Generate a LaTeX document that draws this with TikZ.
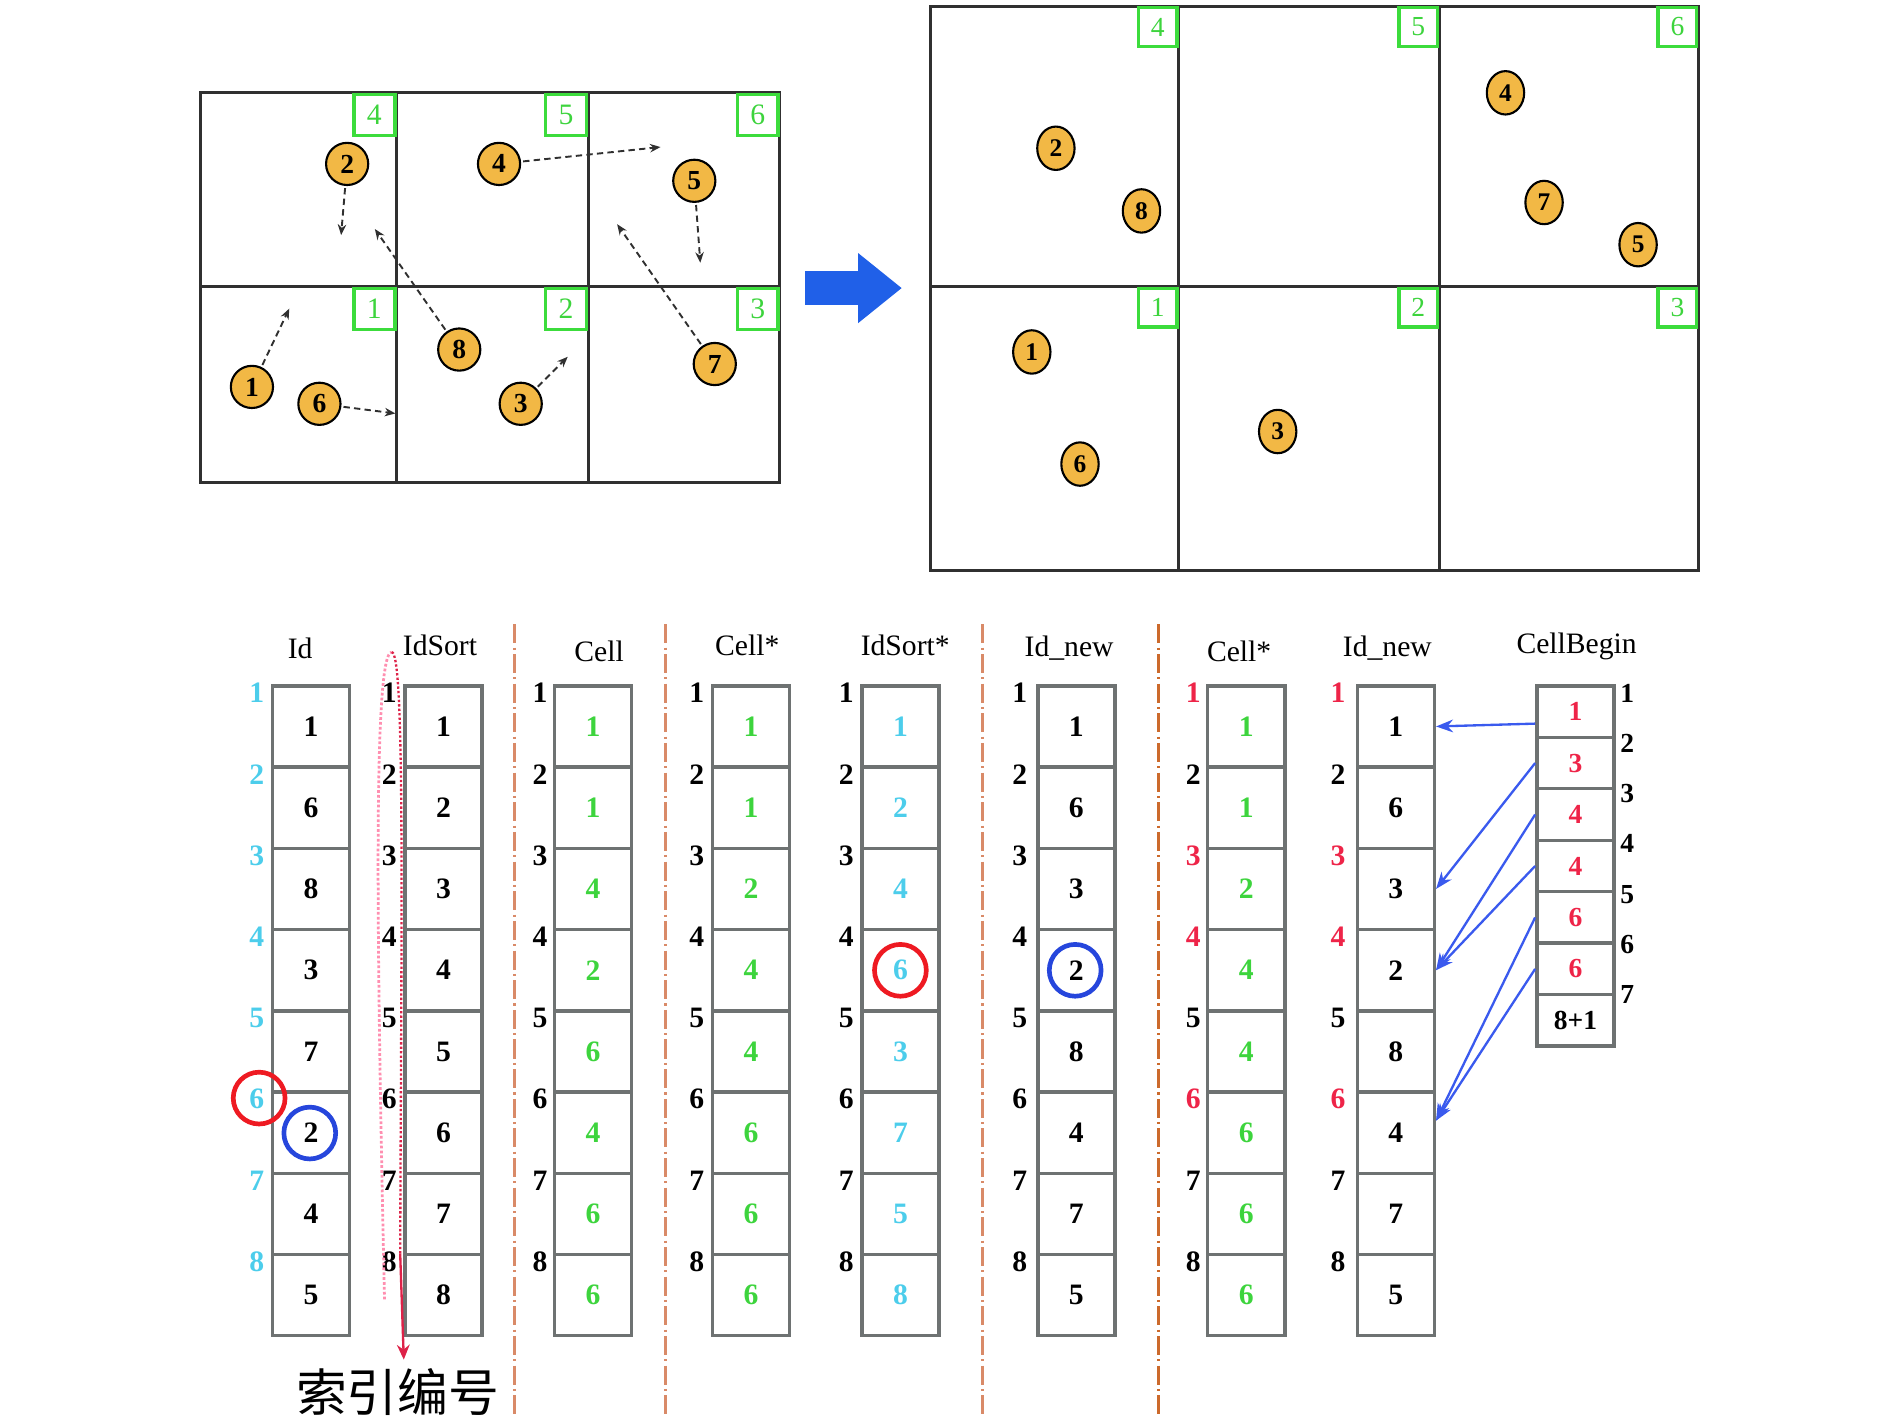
\documentclass[tikz,border=0pt]{standalone}
\usepackage{fontspec}
\setmainfont{Liberation Serif}
\newfontfamily\cjk{Noto Sans CJK SC}
\usetikzlibrary{arrows.meta,shapes.geometric}
\definecolor{gridc}{HTML}{303030}
\definecolor{boxc}{HTML}{6E7272}
\definecolor{gbox}{HTML}{3CDC3C}
\definecolor{pfill}{HTML}{F2B845}
\definecolor{cyanc}{HTML}{4CCDEB}
\definecolor{greenc}{HTML}{3DD43D}
\definecolor{redc}{HTML}{EE2448}
\definecolor{ringred}{HTML}{EE1A22}
\definecolor{ringblue}{HTML}{2646DC}
\definecolor{arrblue}{HTML}{3A5AEE}
\definecolor{bigblue}{HTML}{2060E8}
\definecolor{sepc}{HTML}{D98A68}
\definecolor{sepd}{HTML}{CC6A2C}
\definecolor{pinkc}{HTML}{FF8FB0}
\definecolor{loopred}{HTML}{DD2248}
\tikzset{
  gridline/.style={draw=gridc,line width=1.4pt},
  gboxtl/.style={draw=gbox,line width=1.6pt,fill=white,minimum size=0.68cm,inner sep=0pt,anchor=north east,text=greenc,font=\fontsize{14}{16}\selectfont},
  gboxtr/.style={draw=gbox,line width=1.6pt,fill=white,minimum size=0.64cm,inner sep=0pt,anchor=north east,text=greenc,font=\fontsize{13}{15}\selectfont},
  particle/.style={circle,draw=black,line width=1pt,fill=pfill,minimum size=0.70cm,inner sep=0pt,font=\fontsize{13}{15}\selectfont\bfseries},
  particleb/.style={ellipse,draw=black,line width=1pt,fill=pfill,minimum width=0.62cm,minimum height=0.72cm,inner sep=0pt,font=\fontsize{12}{14}\selectfont\bfseries},
  mv/.style={densely dashed,draw=gridc,line width=0.9pt,-{Stealth[length=5pt,width=4pt]},shorten <=1pt},
  cellbox/.style={draw=boxc,line width=1.6pt,minimum width=1.28cm,minimum height=1.348cm,inner sep=0pt,font=\fontsize{14}{16}\selectfont\bfseries},
  cbbox/.style={draw=boxc,line width=1.6pt,minimum width=1.28cm,minimum height=0.854cm,inner sep=0pt,font=\fontsize{13}{15}\selectfont\bfseries},
  idx/.style={inner sep=0pt,font=\fontsize{14}{16}\selectfont\bfseries},
  hdr/.style={inner sep=0pt,font=\fontsize{14}{16}\selectfont},
  ring/.style={circle,line width=2.2pt,minimum size=0.86cm,inner sep=0pt},
  sep/.style={line width=1.6pt,dash pattern=on 9pt off 2pt on 1pt off 2pt},
  cbarrow/.style={draw=arrblue,line width=1.1pt,-{Stealth[length=8pt,width=6pt]}},
}
\begin{document}
\begin{tikzpicture}[x=0.02cm,y=-0.02cm]
\useasboundingbox (0,0) rectangle (1568,1182);
% ---------------- top-left grid ----------------
\draw[gridline] (166,77) rectangle (647,400);
\draw[gridline] (329,77) -- (329,400);
\draw[gridline] (488,77) -- (488,400);
\draw[gridline] (166,238) -- (647,238);
\node[gboxtl] (ga4) at (329,77) {4};
\node[gboxtl] (ga5) at (488,77) {5};
\node[gboxtl] (ga6) at (647,77) {6};
\node[gboxtl] (ga1) at (329,238) {1};
\node[gboxtl] (ga2) at (488,238) {2};
\node[gboxtl] (ga3) at (647,238) {3};
\node[particle] (p2) at (288,136) {2};
\node[particle] (p4) at (414,136) {4};
\node[particle] (p5) at (576,150) {5};
\node[particle] (p8) at (381,290) {8};
\node[particle] (p1) at (209,321) {1};
\node[particle] (p6) at (265,335) {6};
\node[particle] (p3) at (432,335) {3};
\node[particle] (p7) at (593,302) {7};
\coordinate (t2) at (283,195);
\coordinate (t4) at (548,122);
\coordinate (t5) at (581,218);
\coordinate (t8) at (311,190);
\coordinate (t1) at (240,256);
\coordinate (t6) at (328,343);
\coordinate (t3) at (471,296);
\coordinate (t7) at (512,186);
\foreach \k in {2,4,5,8,1,6,3,7} {\draw[mv] (p\k) -- (t\k);}
% ---------------- big arrow ----------------
\fill[bigblue] (668,225) -- (712,225) -- (712,210) -- (748,239) -- (712,268) -- (712,253) -- (668,253) -- cycle;
% ---------------- top-right grid ----------------
\draw[gridline] (772,5) rectangle (1409,473);
\draw[gridline] (978,5) -- (978,473);
\draw[gridline] (1194,5) -- (1194,473);
\draw[gridline] (772,238) -- (1409,238);
\node[gboxtr] (gb4) at (978,5) {4};
\node[gboxtr] (gb5) at (1194,5) {5};
\node[gboxtr] (gb6) at (1409,5) {6};
\node[gboxtr] (gb1) at (978,238) {1};
\node[gboxtr] (gb2) at (1194,238) {2};
\node[gboxtr] (gb3) at (1409,238) {3};
\node[particleb] (q2) at (876,123) {2};
\node[particleb] (q8) at (947,175) {8};
\node[particleb] (q4) at (1249,77) {4};
\node[particleb] (q7) at (1281,168) {7};
\node[particleb] (q5) at (1359,203) {5};
\node[particleb] (q1) at (856,292) {1};
\node[particleb] (q6) at (896,385) {6};
\node[particleb] (q3) at (1060,358) {3};
% ---------------- separators ----------------
\draw[sep,draw=sepc] (427,518) -- (427,1175);
\draw[sep,draw=sepc] (552,518) -- (552,1175);
\draw[sep,draw=sepc] (815,518) -- (815,1175);
\draw[sep,draw=sepd] (961,518) -- (961,1175);
% ---------------- headers ----------------
\node[hdr] (h1) at (249,538) {Id};
\node[hdr] (h2) at (365,535) {IdSort};
\node[hdr] (h3) at (497,540) {Cell};
\node[hdr] (h4) at (620,535) {Cell*};
\node[hdr] (h5) at (751,535) {IdSort*};
\node[hdr] (h6) at (887,538) {Id\_new};
\node[hdr] (h7) at (1028,540) {Cell*};
\node[hdr] (h8) at (1151,538) {Id\_new};
\node[hdr] (h9) at (1308,536) {CellBegin};
% ---------------- columns ----------------
\foreach \nm/\L/\vals/\col in {
  id/226/{1,6,8,3,7,2,4,5}/black,
  is/336/{1,2,3,4,5,6,7,8}/black,
  ce/460/{1,1,4,2,6,4,6,6}/greenc,
  cs/591/{1,1,2,4,4,6,6,6}/greenc,
  iss/715/{1,2,4,6,3,7,5,8}/cyanc,
  na/861/{1,6,3,2,8,4,7,5}/black,
  ct/1002/{1,1,2,4,4,6,6,6}/greenc,
  nb/1126/{1,6,3,2,8,4,7,5}/black} {
  \foreach \v [count=\i] in \vals {
    \node[cellbox,text=\col] (\nm-\i) at ({\L+32},{569+67.4*(\i-0.5)}) {\v};
  }
}
% index labels
\foreach \i in {1,...,8} {
  \node[idx,text=cyanc] (li-id-\i) at (213,{575+67.4*(\i-1)}) {\i};
}
\foreach \nm/\L in {is/323,ce/448,cs/578,iss/702,na/846} {
  \foreach \i in {1,...,8} {
    \node[idx] (li-\nm-\i) at (\L,{575+67.4*(\i-1)}) {\i};
  }
}
\foreach \nm/\L in {ct/990,nb/1110} {
  \foreach \i in {2,5,7,8} {
    \node[idx] (li-\nm-\i) at (\L,{575+67.4*(\i-1)}) {\i};
  }
  \foreach \i in {1,3,4,6} {
    \node[idx,text=redc] (li-\nm-\i) at (\L,{575+67.4*(\i-1)}) {\i};
  }
}
% CellBegin
\foreach \v/\c [count=\k] in {1/redc,3/redc,4/redc,4/redc,6/redc,6/redc,8+1/black} {
  \node[cbbox,text=\c] (cb-\k) at (1307,{569+42.7*(\k-0.5)}) {\v};
  \node[idx,font=\fontsize{13}{15}\selectfont\bfseries] (cl-\k) at (1350,{575+41.7*(\k-1)}) {\k};
}
% CellBegin arrows
\draw[cbarrow] ([yshift=-0.2cm]cb-1.west) -- ([yshift=0cm]nb-1.east);
\draw[cbarrow] (cb-2.west) -- (nb-3.east);
\draw[cbarrow] (cb-3.west) -- (nb-4.east);
\draw[cbarrow] (cb-4.west) -- (nb-4.east);
\draw[cbarrow] (cb-5.west) -- ([yshift=0.2cm]nb-6.east);
\draw[cbarrow] (cb-6.west) -- ([yshift=0.2cm]nb-6.east);
% rings
\node[ring,draw=ringred] (rr1) at (215,911) {};
\node[ring,draw=ringblue] (rb1) at (257,940) {};
\node[ring,draw=ringred] (rr2) at (747,805) {};
\node[ring,draw=ringblue] (rb2) at (892,805) {};
% loop and label
\node[inner sep=0pt,font=\cjk\fontsize{24}{28}\selectfont] (idxtxt) at (330,1155) {索引编号};
\coordinate (lp-a) at (319,1078);
\coordinate (lp-top) at (325,541);
\coordinate (lp-b) at (332,1040);
\draw[pinkc,line width=1.3pt,densely dotted] (lp-a) .. controls (312,760) and (310,541) .. (lp-top);
\draw[loopred,line width=1.1pt,densely dotted] (lp-top) .. controls (336,541) and (333,760) .. (lp-b);
\draw[loopred,line width=1.1pt,-{Stealth[length=7pt,width=6pt]}] (lp-b) -- (335,1128);
\end{tikzpicture}
\end{document}
